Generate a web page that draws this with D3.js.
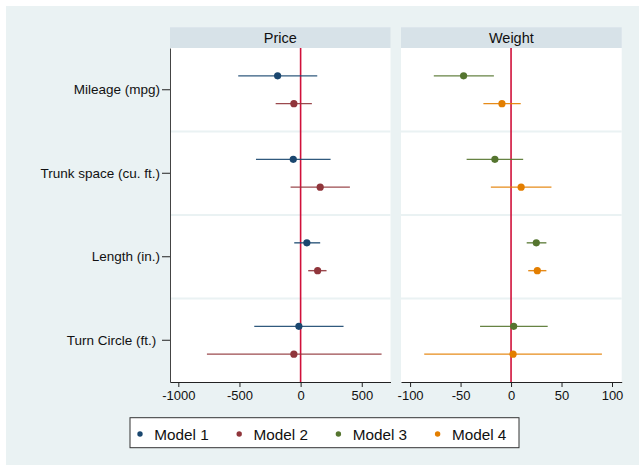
<!DOCTYPE html>
<html>
<head>
<meta charset="utf-8">
<script src="https://cdn.jsdelivr.net/npm/d3@7"></script>
<style>
  html, body { margin: 0; padding: 0; background: #ffffff; }
  svg { display: block; font-family: "Liberation Sans", Arial, Helvetica, sans-serif; }
</style>
</head>
<body>
<svg id="chart" width="639" height="465"></svg>
<script>
// ---------------- data ----------------
const categories = ["Mileage (mpg)", "Trunk space (cu. ft.)", "Length (in.)", "Turn Circle (ft.) "];
const models = ["Model 1", "Model 2", "Model 3", "Model 4"];
const modelColors = ["#1a476f", "#90353b", "#55752f", "#e37e00"];
const panels = ["Price", "Weight"];

// Price panel
const priceM1 = [-188, -60, 51, -14];
const priceM1Lo = [-510, -365, -52, -379];
const priceM1Hi = [136, 245, 160, 351];
const priceM2 = [-55, 160, 139, -55];
const priceM2Lo = [-204, -82, 62, -766];
const priceM2Hi = [92, 403, 212, 662];

// Weight panel
const weightM3 = [-47, -16, 25, 2.6];
const weightM3Lo = [-76.5, -44, 15.5, -30.7];
const weightM3Hi = [-17, 12, 35, 36.3];
const weightM4 = [-9, 10, 26, 2];
const weightM4Lo = [-27.4, -20, 17, -86];
const weightM4Hi = [9.6, 40, 35, 90];

const priceTicks = [-1000, -500, 0, 500];
const weightTicks = [-100, -50, 0, 50, 100];

// ---------------- layout ----------------
const svg = d3.select("#chart");
const bg = "#eaf2f3";
svg.append("rect").attr("x", 6).attr("y", 6).attr("width", 633).attr("height", 459).attr("fill", bg);

const plotTop = 48, plotBottom = 382, headTop = 27.3;

const y = d3.scaleBand().domain(categories).range([plotTop, plotBottom]).padding(0);
const bw = y.bandwidth();

const panelDefs = [
  {
    name: panels[0],
    x: d3.scaleLinear().domain([-1068, 735]).range([170, 390.5]),
    ticks: priceTicks,
    series: [
      {m: 0, est: priceM1, lo: priceM1Lo, hi: priceM1Hi, slot: 1},
      {m: 1, est: priceM2, lo: priceM2Lo, hi: priceM2Hi, slot: 2}
    ],
    yaxis: true
  },
  {
    name: panels[1],
    x: d3.scaleLinear().domain([-109, 109.6]).range([401, 621.7]),
    ticks: weightTicks,
    series: [
      {m: 2, est: weightM3, lo: weightM3Lo, hi: weightM3Hi, slot: 1},
      {m: 3, est: weightM4, lo: weightM4Lo, hi: weightM4Hi, slot: 2}
    ],
    yaxis: false
  }
];

panelDefs.forEach(p => {
  const [x0, x1] = p.x.range();
  const g = svg.append("g");
  // header
  g.append("rect").attr("x", x0).attr("y", headTop).attr("width", x1 - x0).attr("height", plotTop - headTop)
    .attr("fill", "#d7e2e8");
  g.append("text").attr("x", (x0 + x1) / 2).attr("y", (headTop + plotTop) / 2).attr("dy", "0.36em")
    .attr("text-anchor", "middle").attr("font-size", 14.5).attr("fill", "#111").text(p.name);
  // plot area
  g.append("rect").attr("x", x0).attr("y", plotTop).attr("width", x1 - x0).attr("height", plotBottom - plotTop)
    .attr("fill", "#ffffff");
  // grid lines between categories
  categories.slice(1).forEach(c => {
    g.append("line").attr("x1", x0).attr("x2", x1).attr("y1", y(c)).attr("y2", y(c))
      .attr("stroke", bg).attr("stroke-width", 2);
  });
  // reference line at zero
  g.append("line").attr("x1", p.x(0)).attr("x2", p.x(0)).attr("y1", plotTop).attr("y2", plotBottom)
    .attr("stroke", "#d0103a").attr("stroke-width", 1.6);
  // series
  p.series.forEach(s => {
    const col = modelColors[s.m];
    categories.forEach((c, i) => {
      const yy = y(c) + bw * s.slot / 3;
      g.append("line").attr("x1", p.x(s.lo[i])).attr("x2", p.x(s.hi[i])).attr("y1", yy).attr("y2", yy)
        .attr("stroke", col).attr("stroke-width", 1.4).attr("stroke-opacity", 0.9);
      g.append("circle").attr("cx", p.x(s.est[i])).attr("cy", yy).attr("r", 3.6).attr("fill", col);
    });
  });
  // x axis
  const ax = g.append("g").attr("transform", `translate(0,${plotBottom})`)
    .call(d3.axisBottom(p.x).tickValues(p.ticks).tickSize(5).tickSizeOuter(0).tickPadding(4)
      .tickFormat(d => d));
  ax.select(".domain").attr("stroke", "#222");
  ax.selectAll(".tick line").attr("stroke", "#222");
  ax.selectAll(".tick text").attr("font-size", 13).attr("fill", "#111").attr("font-family", null);
  ax.attr("font-family", null);
  // y axis
  if (p.yaxis) {
    const ay = g.append("g").attr("transform", `translate(${x0},0)`)
      .call(d3.axisLeft(y).tickSize(8).tickSizeOuter(0).tickPadding(2));
    ay.attr("font-family", null);
    ay.select(".domain").attr("stroke", "#444");
    ay.selectAll(".tick line").attr("stroke", "#222");
    ay.selectAll(".tick text").attr("font-size", 13.5).attr("fill", "#111").style("white-space", "pre");
  }
});

// ---------------- legend ----------------
const lg = svg.append("g");
lg.append("rect").attr("x", 130).attr("y", 417.7).attr("width", 389).attr("height", 30)
  .attr("fill", "#ffffff").attr("stroke", "#333").attr("stroke-width", 1);
models.forEach((m, i) => {
  lg.append("circle").attr("cx", 140 + i * 99.2).attr("cy", 434).attr("r", 2.7).attr("fill", modelColors[i]);
  lg.append("text").attr("x", 154.3 + i * 99.2).attr("y", 439.6).attr("font-size", 15.3).attr("fill", "#111").text(m);
});
</script>
</body>
</html>
